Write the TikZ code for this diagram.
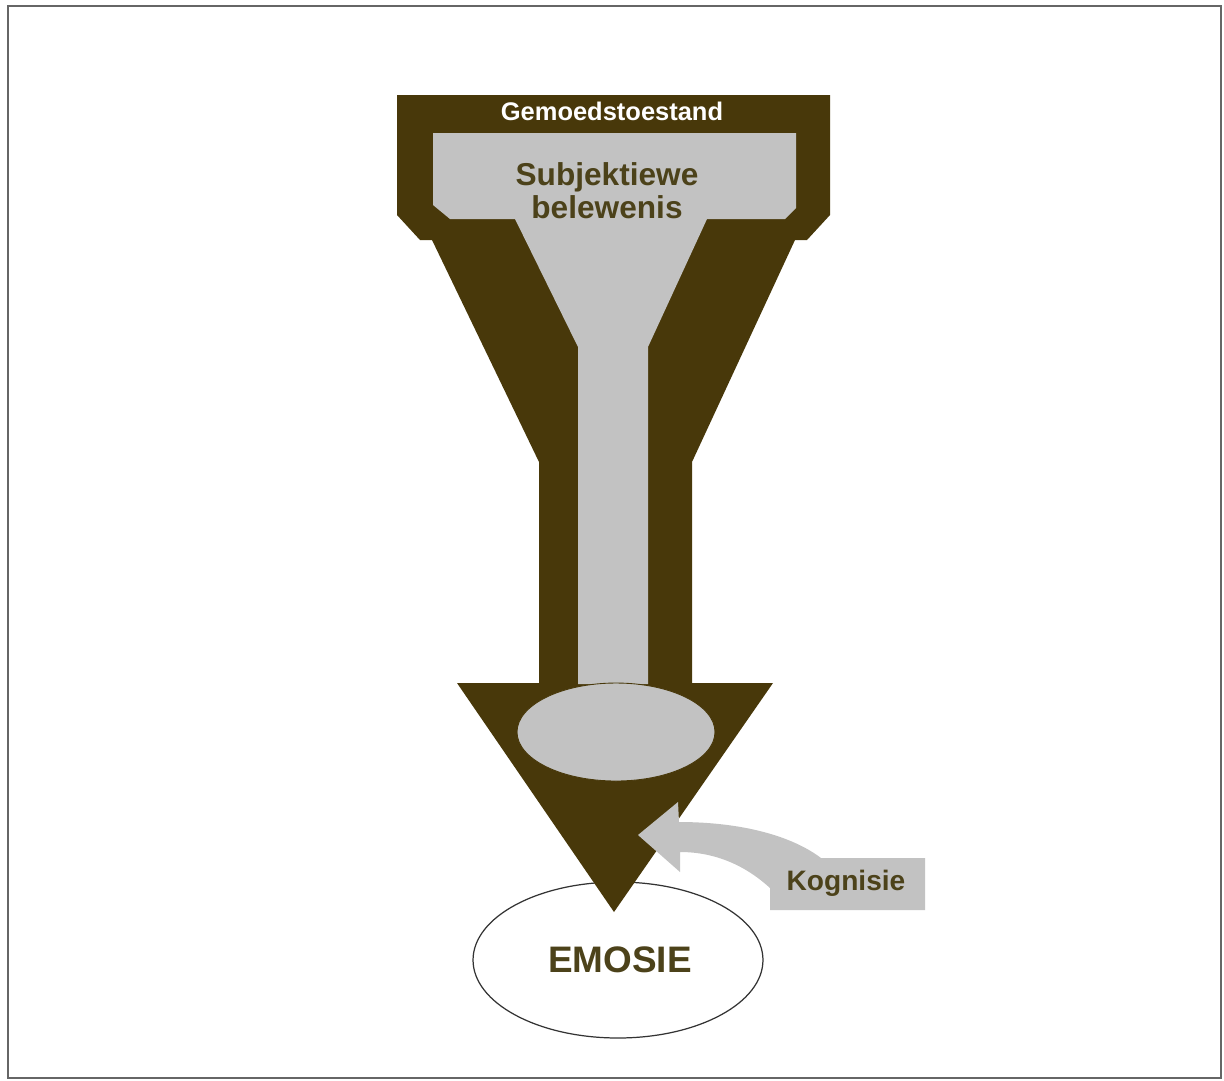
\documentclass[tikz,border=0pt]{standalone}
\usepackage{fontspec}
\setmainfont{Liberation Sans}
\usepackage{xcolor}
\usepackage{tikz}
\usetikzlibrary{shapes.geometric}
\definecolor{darkbrown}{RGB}{72,56,10}
\definecolor{lightgrey}{RGB}{194,194,194}
\definecolor{textolive}{RGB}{76,66,26}

\begin{document}
\begin{tikzpicture}[x=0.02cm,y=-0.02cm,
  darkpart/.style={fill=darkbrown},
  greypart/.style={fill=lightgrey},
  labeltext/.style={font=\bfseries, text=textolive, align=center, inner sep=0pt}]
\useasboundingbox (0,0) rectangle (1224,1080);
% Frame
\draw[black!60, line width=0.04cm] (8,6) rectangle (1221,1078);
% Emotion
\node[ellipse, draw=black!80, fill=white, line width=0.7pt, minimum width=5.8cm, minimum height=3.12cm] (emo) at (618,960) {};
% Funnel
\fill[darkpart] (397,95) -- (830,95) -- (830,215) -- (807,240) -- (795,240) -- (692,462)
  -- (692,683) -- (773,683) -- (614,912) -- (457,683) -- (539,683) -- (539,462)
  -- (432,240) -- (420,240) -- (397,215) -- cycle;
\fill[greypart] (433,133) -- (796,133) -- (796,208) -- (785,219) -- (707,219) -- (648,347)
  -- (648,684) -- (578,684) -- (578,347) -- (515,219) -- (450,219) -- (433,205) -- cycle;
\node[ellipse, draw=darkbrown, fill=lightgrey, line width=0.5pt, minimum width=3.96cm, minimum height=1.96cm] (pool) at (616,732) {};
% Cognition
\coordinate (kogtip) at (638,835);
\fill[greypart] (kogtip) -- (678,802) -- (679,822) .. controls (742,822) and (792,836) .. (821,858)
  -- (925,858) -- (925,910) -- (770,910) -- (770,888) .. controls (746,866) and (716,852) .. (680,852)
  -- (680,872) -- cycle;
\node[labeltext, font=\bfseries\fontsize{16}{18}\selectfont] (kog) at (846,883) {Kognisie};
% Labels
\node[labeltext, text=white, font=\bfseries\fontsize{14.5}{16}\selectfont] (mood) at (612,111) {Gemoedstoestand};
\node[labeltext, font=\bfseries\fontsize{18}{18.8}\selectfont] (subj) at (607,191) {Subjektiewe\\belewenis};
\node[labeltext, font=\bfseries\fontsize{21}{24}\selectfont] (emotext) at (620,960) {EMOSIE};
\end{tikzpicture}
\end{document}
